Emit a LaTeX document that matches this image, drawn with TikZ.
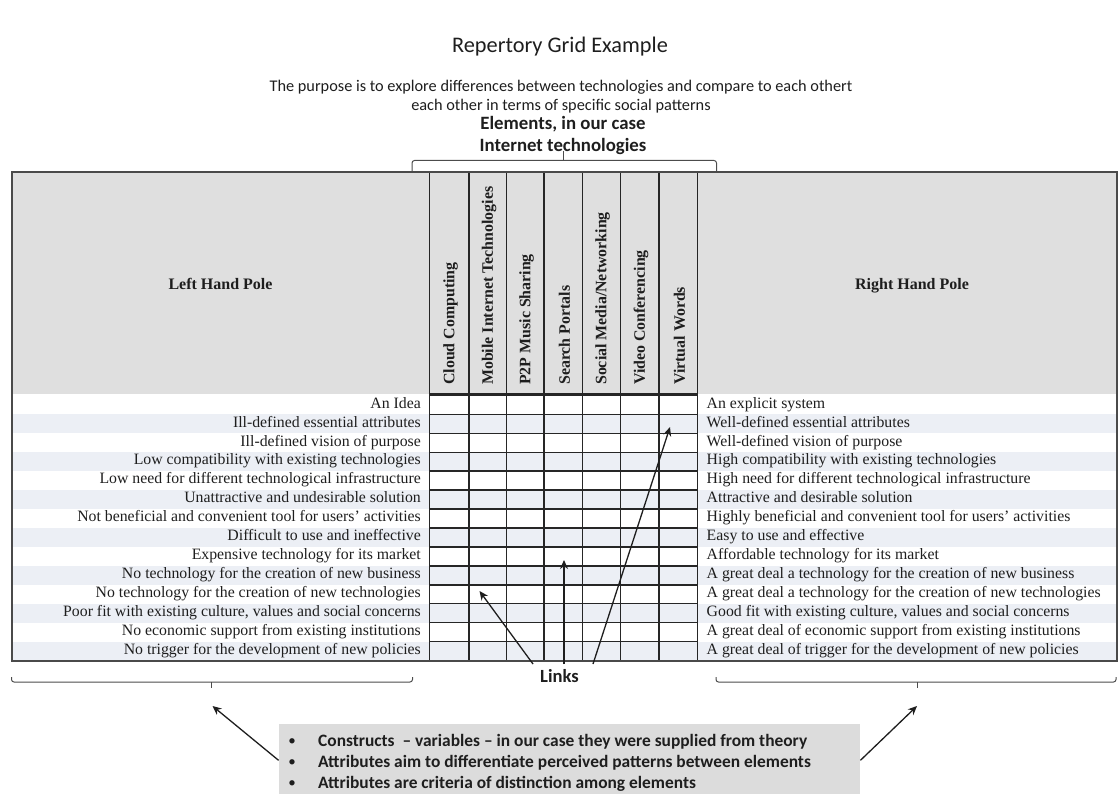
\documentclass[tikz,border=0pt]{standalone}
\usepackage{fontspec}
\setmainfont{Liberation Serif}
\newfontfamily\calibri{Carlito}
\usetikzlibrary{arrows.meta}
\definecolor{hdrgray}{HTML}{DFDFDF}
\definecolor{stripe}{HTML}{ECEFF5}
\definecolor{framegray}{HTML}{4A4A4A}
\definecolor{boxgray}{HTML}{DCDCDC}
\definecolor{ink}{HTML}{1E1E1E}
\begin{document}
\begin{tikzpicture}[x=1pt,y=-1pt,
  gridline/.style={line width=1.5pt, draw=black!85},
  frameline/.style={line width=1.8pt, draw=framegray},
  bracket/.style={line width=1pt, draw=black!70, rounded corners=2.5pt},
  arr/.style={-{Stealth[length=9pt,width=8pt]}, line width=1.3pt, draw=ink},
  lefttxt/.style={anchor=east, inner sep=0pt, text height=10pt, text depth=3.5pt, font=\fontsize{15.8}{17}\selectfont, text=ink},
  righttxt/.style={anchor=west, inner sep=0pt, text height=10pt, text depth=3.5pt, font=\fontsize{15.8}{17}\selectfont, text=ink},
  eltxt/.style={rotate=90, anchor=west, inner sep=0pt, font=\fontsize{15.9}{17}\selectfont\bfseries, text=ink},
  poletxt/.style={inner sep=0pt, anchor=base, font=\fontsize{16}{18}\selectfont\bfseries, text=ink},
  boxtxt/.style={anchor=west, inner sep=0pt, font=\calibri\fontsize{17.4}{20}\selectfont\bfseries, text=ink}]
\useasboundingbox (0,0) rectangle (1119,794);

% title and purpose
\node[inner sep=0pt, font=\calibri\fontsize{22.3}{26}\selectfont, text=ink] (title) at (560,47) {Repertory Grid Example};
\node[inner sep=0pt, align=center, font=\calibri\fontsize{16.3}{19}\selectfont, text=ink] (purpose) at (561,96.5)
  {The purpose is to explore differences between technologies and compare to each othert\\each other in terms of specific social patterns};

% elements heading with its bracket
\node[inner sep=0pt, align=center, font=\calibri\fontsize{18.8}{22}\selectfont\bfseries, text=ink] (elements) at (563,135)
  {Elements, in our case\\Internet technologies};
\draw[bracket] (412,171) -- (412,160.5) -- (563,160.5) -- (716.5,160.5) -- (716.5,171);
\draw[line width=1pt, draw=black!70] (563,160.5) -- (563,151);

% header band
\fill[hdrgray] (12,172) rectangle (1117,394);
% striped rows
\foreach \i in {1,3,...,13}
  \fill[stripe] (12,{395.5+18.93*\i}) rectangle (1117,{395.5+18.93*(\i+1)});

% grid of the elements
\foreach \x in {429.5,469,506.5,544,582.5,620.5,659,697.5}
  \draw[gridline] (\x,172) -- (\x,661);
\draw[gridline] (429.5,394) -- (697.5,394);
\foreach \i in {0,...,14}
  \draw[gridline] (429.5,{395.5+18.93*\i}) -- (697.5,{395.5+18.93*\i});

% outer frame
\draw[frameline] (12,172) rectangle (1117,661);

% pole headings
\node[poletxt] (lpole) at (220.5,290) {Left Hand Pole};
\node[poletxt] (rpole) at (912,290) {Right Hand Pole};

% element names
\node[eltxt] (E1) at (450.5,385) {Cloud Computing};
\node[eltxt] (E2) at (489,385) {Mobile Internet Technologies};
\node[eltxt] (E3) at (526.5,385) {P2P Music Sharing};
\node[eltxt] (E4) at (564.5,385) {Search Portals};
\node[eltxt] (E5) at (602.5,385) {Social Media/Networking};
\node[eltxt] (E6) at (641,385) {Video Conferencing};
\node[eltxt] (E7) at (679.5,385) {Virtual Words};

% constructs, left poles
\foreach \t [count=\i from 0] in {
  {An Idea},
  {Ill-defined essential attributes},
  {Ill-defined vision of purpose},
  {Low compatibility with existing technologies},
  {Low need for different technological infrastructure},
  {Unattractive and undesirable solution},
  {Not beneficial and convenient tool for users’ activities},
  {Difficult to use and ineffective},
  {Expensive technology for its market},
  {No technology for the creation of new business},
  {No technology for the creation of new technologies},
  {Poor fit with existing culture, values and social concerns},
  {No economic support from existing institutions},
  {No trigger for the development of new policies}}
  \node[lefttxt] (L\i) at (421,{395.5+18.93*\i+9.4}) {\t};

% constructs, right poles
\foreach \t [count=\i from 0] in {
  {An explicit system},
  {Well-defined essential attributes},
  {Well-defined vision of purpose},
  {High compatibility with existing technologies},
  {High need for different technological infrastructure},
  {Attractive and desirable solution},
  {Highly beneficial and convenient tool for users’ activities},
  {Easy to use and effective},
  {Affordable technology for its market},
  {A great deal a technology for the creation of new business},
  {A great deal a technology for the creation of new technologies},
  {Good fit with existing culture, values and social concerns},
  {A great deal of economic support from existing institutions},
  {A great deal of trigger for the development of new policies}}
  \node[righttxt] (R\i) at (706.5,{395.5+18.93*\i+9.4}) {\t};

% links
\node[inner sep=0pt, font=\calibri\fontsize{18.6}{21}\selectfont\bfseries, text=ink] (links) at (559.5,676) {Links};
\coordinate (lk1) at (533,664);
\coordinate (lk2) at (564,664);
\coordinate (lk3) at (593,664);
\coordinate (cellA) at (479.5,591);
\coordinate (cellB) at (564,560);
\coordinate (cellC) at (670,427);
\draw[arr] (lk1) -- (cellA);
\draw[arr] (lk2) -- (cellB);
\draw[arr] (lk3) -- (cellC);

% brackets under the poles
\draw[bracket] (11.5,677) -- (11.5,682) -- (412.5,682) -- (412.5,677);
\draw[line width=1pt, draw=black!70] (211,682) -- (211,688);
\draw[bracket] (716,677) -- (716,682) -- (1116,682) -- (1116,677);
\draw[line width=1pt, draw=black!70] (917,682) -- (917,688);
\coordinate (lbr) at (212.5,706);
\coordinate (rbr) at (917,706);

% note box
\node[fill=boxgray, anchor=north west, minimum width=581.4pt, minimum height=70.7pt, inner sep=0pt] (note) at (278.6,723.3) {};
\node[boxtxt] (n1) at (318,741.7) {Constructs\ \ – variables – in our case they were supplied from theory};
\node[boxtxt] (n2) at (318,763) {Attributes aim to differentiate perceived patterns between elements};
\node[boxtxt] (n3) at (318,784) {Attributes are criteria of distinction among elements};
\foreach \k/\yy in {1/741.7,2/763,3/784}
  \node[inner sep=0pt, font=\calibri\fontsize{15}{17}\selectfont, text=ink] (b\k) at (292,\yy) {•};
\draw[arr] (note.west) ++(0,1.5) -- (lbr);
\draw[arr] (note.east) ++(0,1.5) -- (rbr);
\end{tikzpicture}
\end{document}
